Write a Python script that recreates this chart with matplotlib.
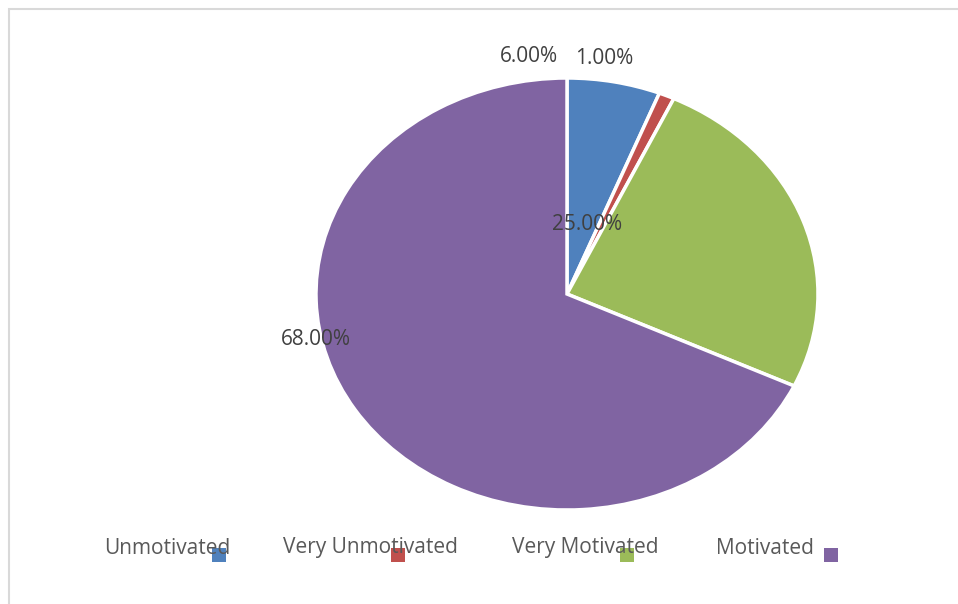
import matplotlib.pyplot as plt
from matplotlib.patches import Rectangle

# data
categories = ["Unmotivated", "Very Unmotivated", "Very Motivated", "Motivated"]
shares = [6.0, 1.0, 25.0, 68.0]
colors = ["#4F81BD", "#C0504D", "#9BBB59", "#8064A2"]

# label placement in pie units (x, y) relative to centre, Excel "best fit"
label_pos = [(-0.15, 1.10), (0.15, 1.09), (0.08, 0.32), (-1.00, -0.21)]

W, H = 958, 604
fig = plt.figure(figsize=(W / 100, H / 100), dpi=100)
plt.rcParams["font.family"] = ["Open Sans", "DejaVu Sans"]

# pie drawn as an ellipse: centre (567, 294), rx 251, ry 216 px
cx, cy, rx, ry = 567, 294, 251, 216
ax = fig.add_axes([(cx - rx) / W, (H - cy - ry) / H, 2 * rx / W, 2 * ry / H])
wedges, _ = ax.pie(
    shares,
    colors=colors,
    startangle=90,
    counterclock=False,
    wedgeprops=dict(edgecolor="white", linewidth=2.5),
)
ax.set_aspect("auto")
ax.set_xlim(-1, 1)
ax.set_ylim(-1, 1)
ax.axis("off")

for val, (lx, ly) in zip(shares, label_pos):
    ax.text(lx, ly, f"{val:.2f}%", ha="center", va="center",
            fontsize=15, color="#404040", clip_on=False)

# legend, laid out like the Excel export: text with a square after it
legend_x = [104, 283, 512, 716]
for x0, name, c in zip(legend_x, categories, colors):
    fig.text(x0 / W, 1 - 548 / H, name, ha="left", va="center",
             fontsize=15, color="#595959")
    fig.add_artist(Rectangle(((x0 + 108) / W, 1 - 562 / H), 14 / W, 14 / H,
                             transform=fig.transFigure, facecolor=c,
                             edgecolor="none"))

# chart frame (only left and top edges fall inside the picture)
fig.add_artist(Rectangle((8.5 / W, -0.1), 1.2, 1 - 9.5 / H + 0.1,
                         transform=fig.transFigure, facecolor="none",
                         edgecolor="#D9D9D9", linewidth=1.5))

fig.savefig("out.png", dpi=100, facecolor="white")
